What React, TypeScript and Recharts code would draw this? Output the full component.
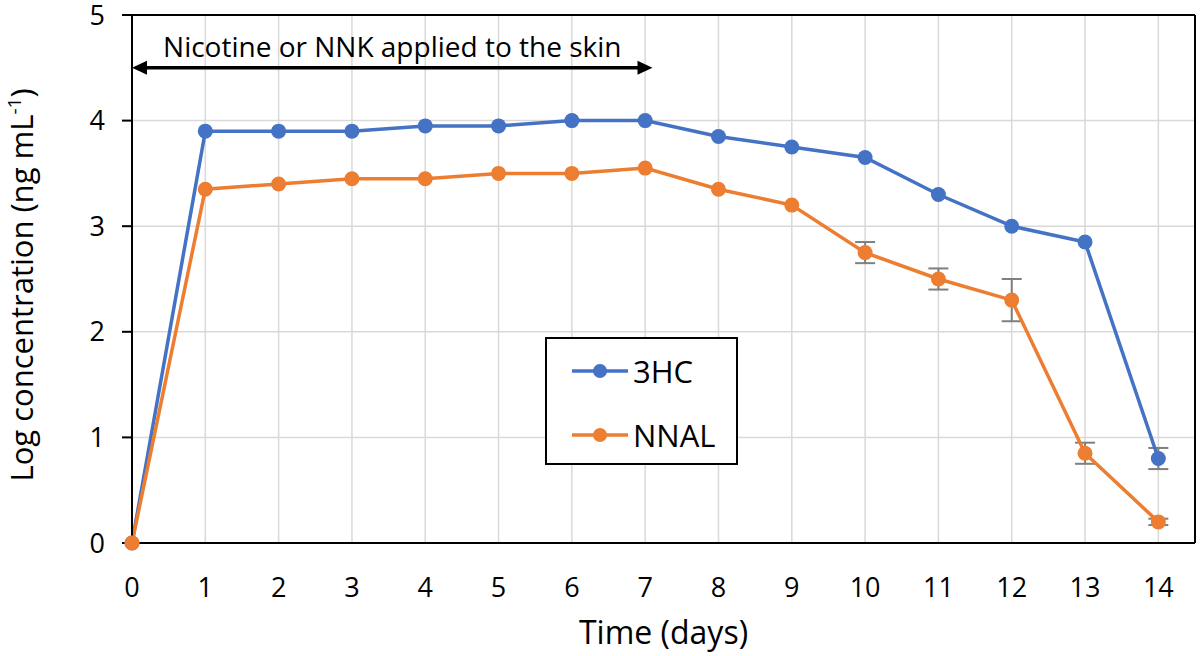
import React from 'react';
import {
  LineChart,
  Line,
  XAxis,
  YAxis,
  CartesianGrid,
  ErrorBar,
  ReferenceLine,
  Legend,
} from 'recharts';

const days = [0, 1, 2, 3, 4, 5, 6, 7, 8, 9, 10, 11, 12, 13, 14];
const hc3 = [0, 3.9, 3.9, 3.9, 3.95, 3.95, 4.0, 4.0, 3.85, 3.75, 3.65, 3.3, 3.0, 2.85, 0.8];
const nnal = [0, 3.35, 3.4, 3.45, 3.45, 3.5, 3.5, 3.55, 3.35, 3.2, 2.75, 2.5, 2.3, 0.85, 0.2];
const hc3Err = [null, null, null, null, null, null, null, null, null, null, null, null, null, null, 0.1];
const nnalErr = [null, null, null, null, null, null, null, null, null, null, 0.1, 0.1, 0.2, 0.1, 0.03];

const xTicks = [0, 1, 2, 3, 4, 5, 6, 7, 8, 9, 10, 11, 12, 13, 14];
const yTicks = [0, 1, 2, 3, 4, 5];

const annotationText = 'Nicotine or NNK applied to the skin';
const annotationStart = 0;
const annotationEnd = 7.1;
const annotationLevel = 4.5;

const BLUE = '#4472C4';
const ORANGE = '#ED7D31';
const FONT = "'Open Sans', sans-serif";

const data = days.map((d, i) => ({
  day: d,
  hc3: hc3[i],
  nnal: nnal[i],
  hc3Err: hc3Err[i],
  nnalErr: nnalErr[i],
}));

const ArrowShape = (props: any) => {
  const { x1, y1, x2 } = props;
  const head = 15;
  const hh = 7;
  const cx = (x1 + x2) / 2;
  return (
    <g>
      <line x1={x1 + head - 2} y1={y1} x2={x2 - head + 2} y2={y1} stroke="#000" strokeWidth={3.5} />
      <polygon points={`${x1},${y1} ${x1 + head},${y1 - hh} ${x1 + head},${y1 + hh}`} fill="#000" />
      <polygon points={`${x2},${y1} ${x2 - head},${y1 - hh} ${x2 - head},${y1 + hh}`} fill="#000" />
      <text x={cx} y={y1 - 11} textAnchor="middle" fontSize={28} fill="#000" fontFamily={FONT}>
        {annotationText}
      </text>
    </g>
  );
};

const YTitle = () => (
  <g transform="translate(33, 285) rotate(-90)">
    <text x={0} y={0} textAnchor="middle" fontSize={31} fill="#000" fontFamily={FONT}>
      Log concentration (ng mL
      <tspan dy={-12} fontSize={19}>-1</tspan>
      <tspan dy={12}>)</tspan>
    </text>
  </g>
);

const LegendContent = (props: any) => {
  const payload = props.payload || [];
  return (
    <div
      style={{
        width: 193,
        height: 128,
        border: '2px solid #000',
        background: '#fff',
        boxSizing: 'border-box',
        position: 'relative',
        fontFamily: FONT,
      }}
    >
      {payload.map((p: any, i: number) => (
        <div
          key={p.value}
          style={{
            position: 'absolute',
            left: 25,
            top: i === 0 ? 12 : 76,
            height: 40,
            display: 'flex',
            alignItems: 'center',
          }}
        >
          <svg width={58} height={20} style={{ display: 'block' }}>
            <line x1={0} y1={10} x2={56} y2={10} stroke={p.color} strokeWidth={3.5} />
            <circle cx={28} cy={10} r={7} fill={p.color} />
          </svg>
          <span style={{ fontSize: 31, color: '#000', marginLeft: 3, lineHeight: '40px' }}>{p.value}</span>
        </div>
      ))}
    </div>
  );
};

export default function App() {
  return (
    <div style={{ position: 'absolute', left: 0, top: 0, width: 1200, height: 656, background: '#fff' }}>
      <LineChart
        width={1200}
        height={656}
        data={data}
        margin={{ top: 15, right: 5, bottom: 0, left: 0 }}
        style={{ fontFamily: FONT }}
      >
        <CartesianGrid stroke="#d9d9d9" strokeWidth={1.5} />
        <XAxis
          dataKey="day"
          type="number"
          domain={[0, 14.5]}
          ticks={xTicks}
          height={113}
          tickLine={false}
          tickSize={0}
          tickMargin={35}
          axisLine={{ stroke: '#000', strokeWidth: 2 }}
          tick={{ fontSize: 27, fill: '#000', fontFamily: FONT }}
          interval={0}
          label={{
            value: 'Time (days)',
            position: 'insideBottom',
            offset: 12,
            fontSize: 32,
            fill: '#000',
            fontFamily: FONT,
          }}
        />
        <YAxis
          type="number"
          domain={[0, 5]}
          ticks={yTicks}
          width={132}
          tickSize={10}
          tickMargin={17}
          tickLine={{ stroke: '#000', strokeWidth: 2 }}
          axisLine={{ stroke: '#000', strokeWidth: 2 }}
          tick={{ fontSize: 27, fill: '#000', fontFamily: FONT }}
          interval={0}
          label={<YTitle />}
        />
        <ReferenceLine y={5} stroke="#000" strokeWidth={2} />
        <ReferenceLine x={14.5} stroke="#000" strokeWidth={2} />
        <ReferenceLine
          segment={[
            { x: annotationStart, y: annotationLevel },
            { x: annotationEnd, y: annotationLevel },
          ]}
          shape={ArrowShape}
        />
        <Line
          type="linear"
          dataKey="hc3"
          name="3HC"
          stroke={BLUE}
          strokeWidth={3.5}
          dot={{ r: 7.5, fill: BLUE, stroke: BLUE, strokeWidth: 0 }}
          activeDot={false}
          isAnimationActive={false}
        >
          <ErrorBar dataKey="hc3Err" direction="y" width={10} stroke="#7f7f7f" strokeWidth={2} isAnimationActive={false} />
        </Line>
        <Line
          type="linear"
          dataKey="nnal"
          name="NNAL"
          stroke={ORANGE}
          strokeWidth={3.5}
          dot={{ r: 7.5, fill: ORANGE, stroke: ORANGE, strokeWidth: 0 }}
          activeDot={false}
          isAnimationActive={false}
        >
          <ErrorBar dataKey="nnalErr" direction="y" width={10} stroke="#7f7f7f" strokeWidth={2} isAnimationActive={false} />
        </Line>
        <Legend
          layout="vertical"
          align="center"
          verticalAlign="middle"
          content={<LegendContent />}
          wrapperStyle={{ left: 545, top: 337, width: 193, height: 128 }}
        />
      </LineChart>
    </div>
  );
}
